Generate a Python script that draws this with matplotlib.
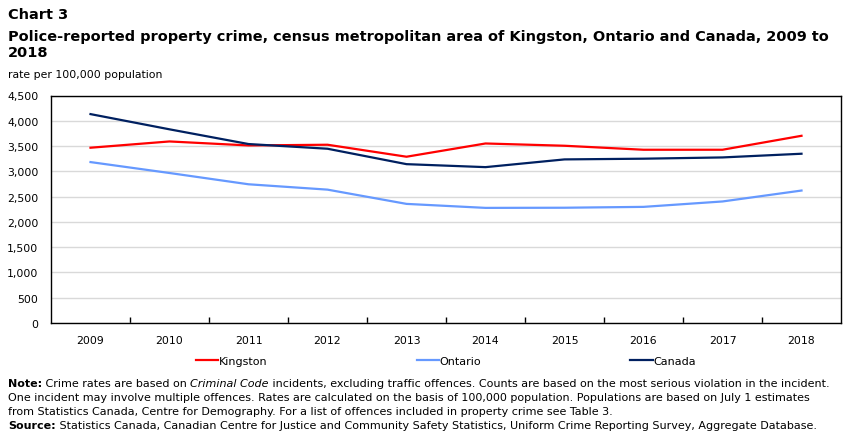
import matplotlib
matplotlib.use("Agg")
import matplotlib.pyplot as plt
from matplotlib.ticker import FuncFormatter, FixedLocator

# data
years = ["2009", "2010", "2011", "2012", "2013", "2014", "2015", "2016", "2017", "2018"]
kingston = [3467, 3591, 3512, 3526, 3289, 3551, 3506, 3427, 3427, 3703]
ontario = [3183, 2967, 2744, 2638, 2356, 2277, 2280, 2297, 2404, 2620]
canada = [4132, 3831, 3540, 3447, 3142, 3083, 3236, 3250, 3275, 3348]

series = [
    ("Kingston", kingston, "#ff0000"),
    ("Ontario", ontario, "#6699ff"),
    ("Canada", canada, "#002060"),
]

plt.rcParams["font.family"] = ["DejaVu Sans"]
TXT = "#000000"
W, H = 851, 435

fig = plt.figure(figsize=(W / 100, H / 100), dpi=100)
ax = fig.add_axes([51 / W, 1 - 324 / H, 790 / W, 227.5 / H])

x = list(range(len(years)))
for name, vals, col in series:
    ax.plot(x, vals, color=col, linewidth=1.6, label=name)

ax.set_xlim(-0.5, len(years) - 0.5)
ax.set_ylim(0, 4500)
ax.set_yticks(range(0, 4501, 500))
ax.yaxis.set_major_formatter(FuncFormatter(lambda v, p: f"{int(v):,}"))
ax.grid(axis="y", color="#d9d9d9", linewidth=1)
ax.set_axisbelow(True)

# category boundaries as ticks, year labels centred between them
ax.xaxis.set_major_locator(FixedLocator([i + 0.5 for i in x[:-1]]))
ax.xaxis.set_minor_locator(FixedLocator(x))
ax.set_xticklabels([], minor=False)
ax.set_xticklabels(years, minor=True)
ax.tick_params(axis="x", which="major", direction="in", length=4, width=1, color="black")
ax.tick_params(axis="x", which="minor", length=0, pad=9, labelsize=7.8, labelcolor=TXT)
ax.tick_params(axis="y", length=0, pad=9, labelsize=7.8, labelcolor=TXT)

for s in ax.spines.values():
    s.set_color("black")
    s.set_linewidth(1)

ax.legend(loc="center", bbox_to_anchor=(0.5, -0.165), ncol=3, frameon=False,
          fontsize=8, handlelength=2.0, handletextpad=0.1, columnspacing=13.4,
          borderaxespad=0)

# titles
for y_px, txt in [(15, "Chart 3"),
                  (37, "Police-reported property crime, census metropolitan area of Kingston, Ontario and Canada, 2009 to"),
                  (53, "2018")]:
    fig.text(8 / W, 1 - y_px / H, txt, fontsize=10.42, fontweight="bold", va="center", color=TXT)
fig.text(8 / W, 1 - 75 / H, "rate per 100,000 population", fontsize=7.8, va="center", color=TXT)

# footnotes, built from pieces so bold / italic parts can sit inline
FS = 8.05


def note_line(y_px, parts):
    prev = None
    for txt, kw in parts:
        if prev is None:
            prev = fig.text(8 / W, 1 - y_px / H, txt, fontsize=FS, va="baseline", color=TXT, **kw)
        else:
            prev = ax.annotate(txt, xy=(1, 0), xycoords=prev, va="bottom", ha="left",
                               fontsize=FS, color=TXT, annotation_clip=False, **kw)


note_line(387, [("Note:", {"fontweight": "bold"}),
                (" Crime rates are based on ", {}),
                ("Criminal Code", {"fontstyle": "italic"}),
                (" incidents, excluding traffic offences. Counts are based on the most serious violation in the incident.", {})])
note_line(401, [("One incident may involve multiple offences. Rates are calculated on the basis of 100,000 population. Populations are based on July 1 estimates", {})])
note_line(415, [("from Statistics Canada, Centre for Demography. For a list of offences included in property crime see Table 3.", {})])
note_line(429, [("Source:", {"fontweight": "bold"}),
                (" Statistics Canada, Canadian Centre for Justice and Community Safety Statistics, Uniform Crime Reporting Survey, Aggregate Database.", {})])

fig.savefig("out.png", dpi=100)
